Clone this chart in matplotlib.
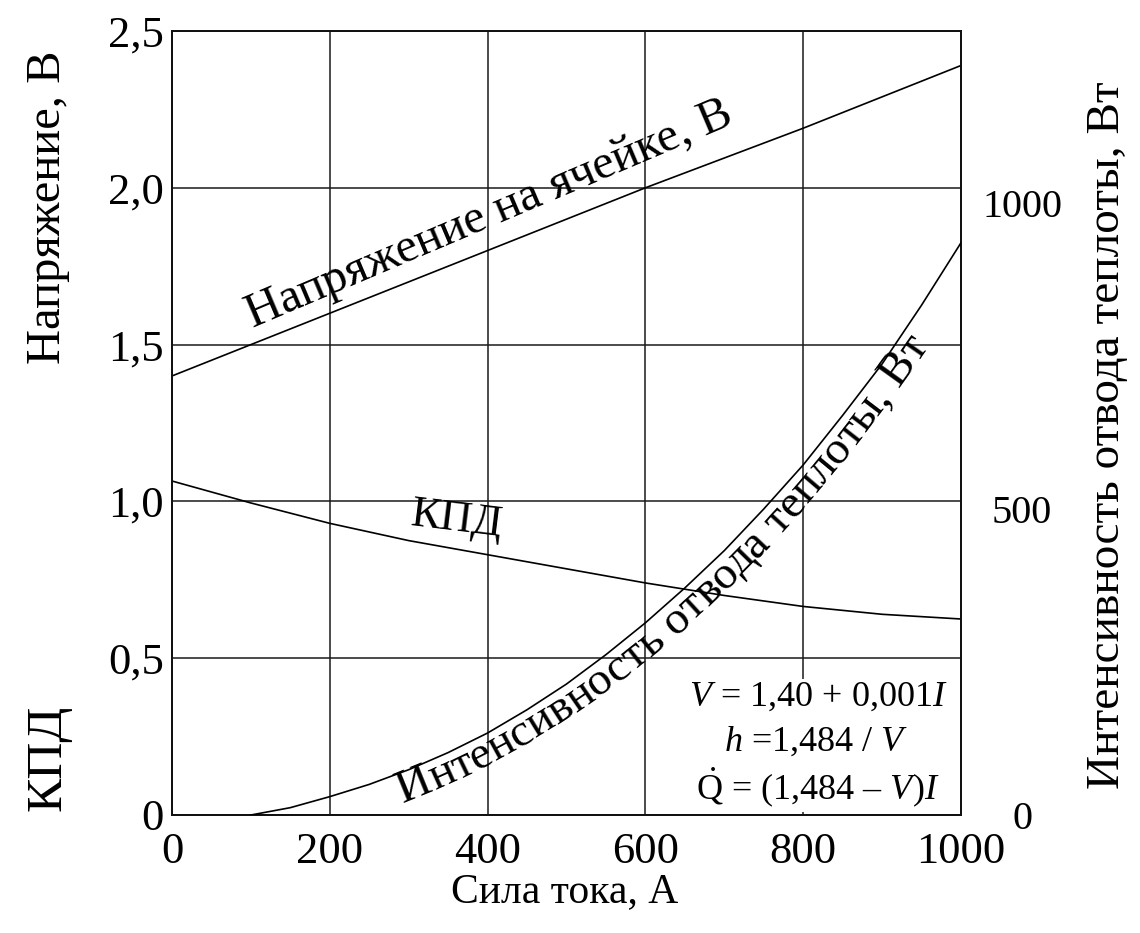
import numpy as np
import matplotlib
matplotlib.use('Agg')
import matplotlib.pyplot as plt
from matplotlib.font_manager import FontProperties
from matplotlib.patches import Rectangle
from matplotlib.transforms import IdentityTransform

plt.rcParams['font.family'] = ['Liberation Serif', 'DejaVu Serif']
plt.rcParams['mathtext.fontset'] = 'custom'
plt.rcParams['mathtext.rm'] = 'Liberation Serif'
plt.rcParams['mathtext.it'] = 'Liberation Serif:italic'

# cell voltage, V
current_v = [0, 200, 400, 600, 800, 1000]
voltage = [1.40, 1.60, 1.80, 2.00, 2.19, 2.39]

# efficiency (KPD), same left scale
current_eff = [0, 100, 200, 300, 400, 500, 600, 700, 800, 900, 1000]
efficiency = [1.065, 0.995, 0.93, 0.875, 0.83, 0.785, 0.74, 0.70, 0.665, 0.64, 0.625]

# heat removal rate, W (right scale)
current_heat = [100, 150, 200, 250, 300, 350, 400, 450, 500, 550, 600,
                650, 700, 750, 800, 850, 900, 950, 1000]
heat = [0, 12, 30, 50, 74, 102, 134, 172, 214, 262, 314,
        371, 432, 500, 572, 653, 737, 833, 935]

x_ticks = [0, 200, 400, 600, 800, 1000]
y_ticks = [0, 0.5, 1.0, 1.5, 2.0, 2.5]
y_ticklabels = ['0', '0,5', '1,0', '1,5', '2,0', '2,5']
y2_ticks = [0, 500, 1000]

fig = plt.figure(figsize=(11.4, 9.33), dpi=100)
ax = fig.add_axes([172/1140, 118/933, 789/1140, 784/933])
ax2 = ax.twinx()

ax.set_xlim(0, 1000)
ax.set_ylim(0, 2.5)
ax2.set_ylim(0, 1281)

ax.set_xticks(x_ticks)
ax.set_yticks(y_ticks)
ax.set_yticklabels(y_ticklabels)
ax2.set_yticks(y2_ticks)
ax.tick_params(axis='both', length=0, labelsize=32)
ax.tick_params(axis='x', pad=12)
ax.tick_params(axis='y', pad=6)
ax2.tick_params(axis='y', length=0, labelsize=29, pad=44)
for lab in ax2.get_yticklabels():
    lab.set_horizontalalignment('center')

ax.grid(True, color='#1a1a1a', linewidth=1.1)
for a in (ax, ax2):
    for sp in a.spines.values():
        sp.set_linewidth(1.3)
        sp.set_color('#111111')

ax.plot(current_v, voltage, color='black', linewidth=1.2, zorder=3)
ax.plot(current_eff, efficiency, color='black', linewidth=1.2, zorder=3)
ax2.plot(current_heat, heat, color='black', linewidth=1.2, zorder=3)

# white panel behind the formulas
ax.add_patch(Rectangle((0.62, 0.004), 0.372, 0.17, transform=ax.transAxes,
                       facecolor='white', edgecolor='none', zorder=2))
ax.text(819, 0.377, r'$V$ = 1,40 + 0,001$I$', fontsize=26, ha='center', va='center', zorder=4)
ax.text(817, 0.233, r'$h$ =1,484 / $V$', fontsize=26, ha='center', va='center', zorder=4)
ax.text(819, 0.089, r'$\dot{\mathrm{Q}}$ = (1,484 – $V$)$I$', fontsize=26,
        ha='center', va='center', zorder=4)

# curve labels
ax.text(408, 1.88, 'Напряжение на ячейке, В', fontsize=35, rotation=23,
        rotation_mode='anchor', ha='center', va='baseline', zorder=4)
ax.text(361, 0.94, 'КПД', fontsize=32, rotation=-7, rotation_mode='anchor',
        ha='center', va='center', zorder=4)

# axis labels
fig.text(48/1140, 1 - 207/933, 'Напряжение, В', fontsize=35, rotation=90,
         ha='center', va='center')
fig.text(48/1140, 1 - 758/933, 'КПД', fontsize=37, rotation=90,
         ha='center', va='center')
fig.text(1108/1140, 1 - 435/933, 'Интенсивность отвода теплоты, Вт', fontsize=34,
         rotation=90, ha='center', va='center')
fig.text(565/1140, 1 - 892/933, 'Сила тока, А', fontsize=30, ha='center', va='center')


def curved_label(a, xs, ys, text, x_start_px, offset_px, size):
    fp = FontProperties(family='Liberation Serif', size=size)
    r = a.figure.canvas.get_renderer()
    coef = np.polyfit(xs, ys, 3)
    xd = np.linspace(xs[0], xs[-1], 800)
    pts = a.transData.transform(np.column_stack([xd, np.polyval(coef, xd)]))
    d = np.gradient(pts, axis=0)
    t = d / np.hypot(d[:, 0], d[:, 1])[:, None]
    nrm = np.column_stack([t[:, 1], -t[:, 0]])
    base = pts + nrm * offset_px
    arc = np.concatenate([[0], np.cumsum(np.hypot(*np.diff(base, axis=0).T))])
    s0 = np.interp(x_start_px, base[:, 0], arc)
    wx = r.get_text_width_height_descent('x', fp, ismath=False)[0]

    def adv(s):
        return r.get_text_width_height_descent(s + 'x', fp, ismath=False)[0] - wx

    for i, ch in enumerate(text):
        if ch == ' ':
            continue
        s = s0 + (adv(text[:i]) + adv(text[:i + 1])) / 2
        px = np.interp(s, arc, base[:, 0])
        py = np.interp(s, arc, base[:, 1])
        ang = np.degrees(np.arctan2(np.interp(s, arc, t[:, 1]), np.interp(s, arc, t[:, 0])))
        a.text(px, py, ch, transform=IdentityTransform(), fontproperties=fp,
               rotation=ang, rotation_mode='anchor', ha='center', va='baseline',
               clip_on=False, zorder=5)


curved_label(ax2, current_heat, heat, 'Интенсивность отвода теплоты, Вт', 403, 29, 34)

fig.savefig('out.png', dpi=100)
